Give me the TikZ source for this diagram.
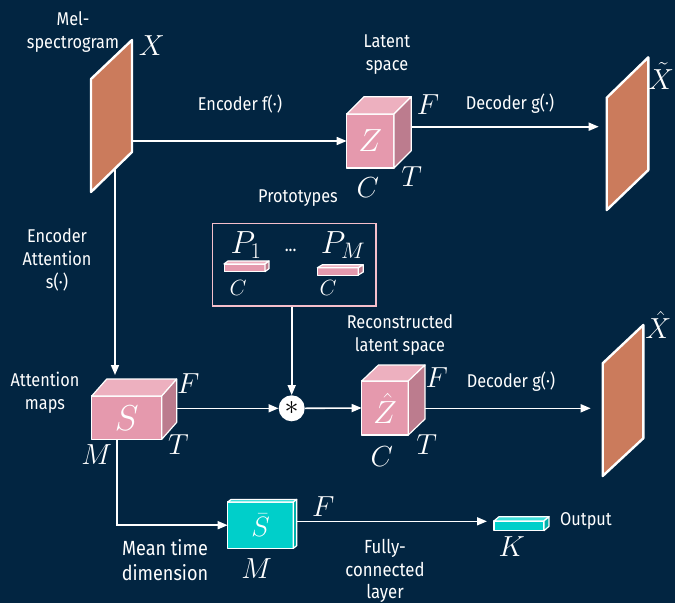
\RequirePackage{fix-cm}
\documentclass[tikz,border=0pt]{standalone}
\usepackage[no-math]{fontspec}
\setmainfont{Fira Sans}[FakeStretch=0.88]
\usetikzlibrary{arrows.meta,calc}
\definecolor{bg}{HTML}{022541}
\definecolor{spec}{HTML}{CB7B5C}
\definecolor{pinkF}{HTML}{E599AD}
\definecolor{pinkT}{HTML}{EDB0BF}
\definecolor{pinkS}{HTML}{BC7C8E}
\definecolor{cyanF}{HTML}{00CFCA}
\definecolor{cyanT}{HTML}{40E0DA}
\definecolor{cyanS}{HTML}{00B0AB}
\definecolor{protoPink}{HTML}{F5BFCB}
\newcommand{\boxfaces}[5]{%
  \filldraw[face, fill=#4] (#1.north west) -- ++(#2,-#3) -- ($(#1.north east)+(#2,-#3)$) -- (#1.north east) -- cycle;
  \filldraw[face, fill=#5] (#1.north east) -- ($(#1.north east)+(#2,-#3)$) -- ($(#1.south east)+(#2,-#3)$) -- (#1.south east) -- cycle;
}
\begin{document}
\begin{tikzpicture}[x=1pt,y=-1pt,
  lbl/.style={text=white, font=\fontsize{18.5}{23}\selectfont, align=center},
  mth/.style={text=white, font=\fontsize{29}{29}\selectfont, inner sep=0},
  ln/.style={draw=white, line width=1.6pt},
  arr/.style={ln, -{Triangle[length=10pt,width=8pt]}},
  specshape/.style={fill=spec, draw=white, line width=2.4pt, line join=round},
  holder/.style={inner sep=0, outer sep=0},
  face/.style={draw=white, line width=1.2pt, line join=round},
  front/.style={face, fill=pinkF, inner sep=0, outer sep=0, text=white},
  cfront/.style={face, fill=cyanF, inner sep=0, outer sep=0, text=white}]
\useasboundingbox[fill=bg] (0,0) rectangle (675,603);

% spectrograms
\node[holder, minimum width=41, minimum height=152] (X) at (111.5,116) {};
\filldraw[specshape] (X.south west) -- ++(0,-113) -- (X.north east) -- ++(0,112) -- cycle;
\node[holder, minimum width=41.6, minimum height=152.7] (Xt) at (627.5,133.7) {};
\filldraw[specshape] (Xt.south west) -- ++(0,-112.3) -- (Xt.north east) -- ++(0,112.7) -- cycle;
\node[holder, minimum width=40.6, minimum height=151] (Xh) at (623,400.5) {};
\filldraw[specshape] (Xh.south west) -- ++(0,-112.7) -- (Xh.north east) -- ++(0,113.3) -- cycle;

% cubes
\node[front, minimum width=47.3, minimum height=54, font=\fontsize{32}{32}\selectfont] (Z) at (370.3,141) {$Z$};
\boxfaces{Z}{17.3}{17.3}{pinkT}{pinkS}
\node[front, minimum width=46.6, minimum height=54, font=\fontsize{32}{32}\selectfont] (Zh) at (385,408) {$\hat{Z}$};
\boxfaces{Zh}{16.7}{16}{pinkT}{pinkS}
\node[front, minimum width=70, minimum height=43.3, font=\fontsize{36}{36}\selectfont] (S) at (126.7,417.7) {$S$};
\boxfaces{S}{15}{17}{pinkT}{pinkS}
\node[cfront, minimum width=65.6, minimum height=46.3, font=\fontsize{28}{28}\selectfont] (Sb) at (260.5,525.2) {$\bar{S}$};
\boxfaces{Sb}{3.4}{2.7}{cyanT}{cyanS}
\node[cfront, minimum width=50, minimum height=9.7] (out) at (519,525.8) {};
\boxfaces{out}{5}{4.3}{cyanT}{cyanS}

% prototypes
\node[draw=protoPink, line width=1.5pt, minimum width=163.3, minimum height=82.7, inner sep=0] (proto) at (294.3,264.7) {};
\node[front, minimum width=41, minimum height=7.7, line width=0.9pt] (p1) at (244.5,267.8) {};
\boxfaces{p1}{4}{3}{pinkT}{pinkS}
\node[front, minimum width=41, minimum height=7.2, line width=0.9pt] (pm) at (337.8,271.4) {};
\boxfaces{pm}{5}{3}{pinkT}{pinkS}
\node[mth, font=\fontsize{32}{32}\selectfont] (lp1) at (246,245) {$P_1$};
\node[mth, font=\fontsize{32}{32}\selectfont] (lpm) at (343,245) {$P_M$};
\node[lbl] (dots) at (290.7,250) {...};
\node[mth, font=\fontsize{22}{22}\selectfont] (c1) at (238,288) {$C$};
\node[mth, font=\fontsize{22}{22}\selectfont] (c2) at (328,288) {$C$};

% multiplication
\node[circle, fill=white, minimum size=26, inner sep=0, font=\fontsize{28}{28}\selectfont] (m) at (291.7,408.3) {$\ast$};

% coordinates
\coordinate (Xb) at (115,169);
\coordinate (Xr) at (132,141);
\coordinate (Zs) at (411.6,126.7);
\coordinate (Ss) at (176,408.3);
\coordinate (Stop) at (115,379);
\coordinate (Sbot) at (117,439.3);
\coordinate (Zhs) at (425,408.3);
\coordinate (Sbs) at (296.7,521.3);

% connectors
\draw[arr] (Xr) -- (Z.west);
\draw[arr, shorten >=8] (Zs) -- (Zs -| Xt.west);
\draw[arr, shorten >=4] (Xb) -- (Stop);
\draw[arr] (Ss) -- (m.west);
\draw[arr] (m |- proto.south) -- (m.north);
\draw[arr] (m.east) -- (Zh.west);
\draw[arr, shorten >=12] (Zhs) -- (Zhs -| Xh.west);
\draw[arr] (Sbot) |- (Sb.west);
\draw[arr, shorten >=7] (Sbs) -- (Sbs -| out.west);

% math labels
\node[mth] (lX) at (151.7,46) {$X$};
\node[mth] (lXt) at (661,76) {$\tilde{X}$};
\node[mth] (lXh) at (658.3,325) {$\hat{X}$};
\node[mth] (ZF) at (428,105) {$F$};
\node[mth] (ZT) at (411.7,176.7) {$T$};
\node[mth] (ZC) at (367.7,188) {$C$};
\node[mth] (SF) at (188.3,383.3) {$F$};
\node[mth] (ST) at (178.3,445) {$T$};
\node[mth] (SM) at (96.7,455) {$M$};
\node[mth] (ZhF) at (436.7,378) {$F$};
\node[mth] (ZhT) at (426.7,445) {$T$};
\node[mth] (ZhC) at (381.7,456.7) {$C$};
\node[mth] (SbF) at (323.3,506.7) {$F$};
\node[mth] (SbM) at (256.7,568.3) {$M$};
\node[mth] (K) at (511.7,546.7) {$K$};

% text labels
\node[lbl] (t1) at (73,32) {Mel-\\spectrogram};
\node[lbl] (t2) at (387,55) {Latent\\space};
\node[lbl] (t3) at (240,104) {Encoder f(·)};
\node[lbl] (t4) at (510,104) {Decoder g(·)};
\node[lbl] (t5) at (298,198) {Prototypes};
\node[lbl] (t6) at (57,260) {Encoder\\Attention\\s(·)};
\node[lbl] (t7) at (45,392.5) {Attention\\maps};
\node[lbl] (t8) at (400,335) {Reconstructed\\latent space};
\node[lbl] (t9) at (511,382) {Decoder g(·)};
\node[lbl, font=\fontsize{20.5}{25}\selectfont] (t10) at (165,560) {Mean time\\dimension};
\node[lbl, font=\fontsize{19}{22.5}\selectfont] (t11) at (385,571) {Fully-\\connected\\layer};
\node[lbl] (t12) at (586,521) {Output};
\end{tikzpicture}
\end{document}
